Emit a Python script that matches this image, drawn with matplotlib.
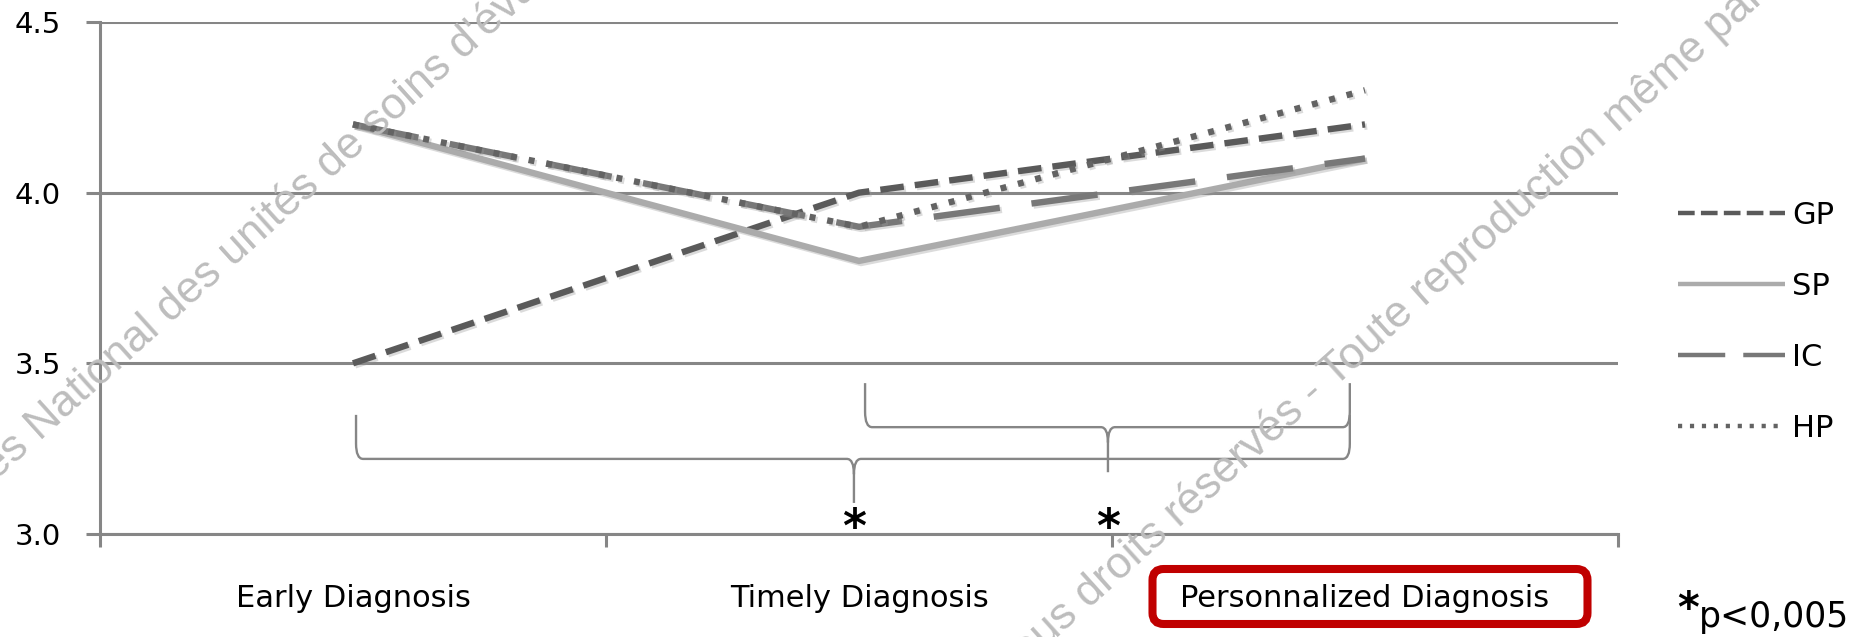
import matplotlib
matplotlib.use("Agg")
import matplotlib.pyplot as plt
import matplotlib.patheffects as pe
from matplotlib.path import Path
from matplotlib.patches import PathPatch, FancyBboxPatch
from matplotlib.lines import Line2D

plt.rcParams['lines.scale_dashes'] = False

# mean scores per stage of diagnosis, for each group of professionals
categories = ["Early Diagnosis", "Timely Diagnosis", "Personnalized Diagnosis"]
groups = ["GP", "SP", "IC", "HP"]
gp = [3.5, 4.0, 4.2]
sp = [4.2, 3.8, 4.1]
ic = [4.2, 3.9, 4.1]
hp = [4.2, 3.9, 4.3]
yticks = [3.0, 3.5, 4.0, 4.5]

# significance braces: left / right category edge, cusp position, heights
brace_left = [0.006, 1.012]
brace_right = [1.97, 1.97]
brace_mid = [0.99, 1.492]
brace_top = [3.349, 3.442]
brace_level = [3.220, 3.313]
brace_tip = [3.091, 3.181]
star_y = 3.012

grid_col = "#868686"
styles = {
    "GP": dict(color="#5A5A5A", dashes=(17, 8), leg_dashes=(12, 4.5)),
    "SP": dict(color="#ABABAB", dashes=(None, None), leg_dashes=(None, None)),
    "IC": dict(color="#787878", dashes=(48, 23), leg_dashes=(34, 13)),
    "HP": dict(color="#636363", dashes=(4.3, 8.6), leg_dashes=(3, 5.6)),
}

fig = plt.figure(figsize=(18.6, 6.37), dpi=100)
ax = fig.add_axes([100 / 1860, 1 - 534 / 637, 1518 / 1860, 512 / 637])
x = list(range(len(categories)))

shadow = [pe.SimpleLineShadow(offset=(1.5, -1.5), shadow_color="#999999", alpha=0.35), pe.Normal()]
for name, vals in zip(groups, [gp, sp, ic, hp]):
    st = styles[name]
    line, = ax.plot(x, vals, color=st["color"], lw=4.6, solid_capstyle="butt",
                    dash_capstyle="butt", solid_joinstyle="miter", path_effects=shadow, zorder=3)
    if st["dashes"][0] is not None:
        line.set_dashes(st["dashes"])

ax.set_xlim(-0.5, 2.5)
ax.set_ylim(3.0, 4.5)
ax.set_yticks(yticks)
ax.set_yticklabels([f"{v:.1f}" for v in yticks], fontsize=21)
ax.yaxis.grid(True, color=grid_col, lw=2.2, zorder=1)
ax.set_axisbelow(True)
for s in ["top", "right"]:
    ax.spines[s].set_visible(False)
for s in ["left", "bottom"]:
    ax.spines[s].set_color(grid_col)
    ax.spines[s].set_linewidth(2.2)
ax.tick_params(axis="y", length=10, width=2.2, color=grid_col, pad=18)
ax.set_xticks(x)
ax.set_xticklabels(categories, fontsize=22)
ax.set_xticks([-0.5, 0.5, 1.5, 2.5], minor=True)
ax.tick_params(axis="x", which="major", length=0, pad=36)
ax.tick_params(axis="x", which="minor", length=9.4, width=2.2, color=grid_col)


def brace(x0, x1, xc, ytop, yh, ytip, rx=0.014, ry=0.045):
    verts = [(x0, ytop), (x0, yh + ry), (x0, yh), (x0 + rx, yh),
             (xc - rx, yh), (xc, yh), (xc, yh - ry), (xc, ytip),
             (xc, yh - ry), (xc, yh), (xc + rx, yh),
             (x1 - rx, yh), (x1, yh), (x1, yh + ry), (x1, ytop)]
    codes = [Path.MOVETO, Path.LINETO, Path.CURVE3, Path.CURVE3,
             Path.LINETO, Path.CURVE3, Path.CURVE3, Path.LINETO,
             Path.MOVETO, Path.CURVE3, Path.CURVE3,
             Path.LINETO, Path.CURVE3, Path.CURVE3, Path.LINETO]
    ax.add_patch(PathPatch(Path(verts, codes), fc="none", ec=grid_col, lw=1.7, zorder=2))


for i in range(len(brace_mid)):
    brace(brace_left[i], brace_right[i], brace_mid[i], brace_top[i], brace_level[i], brace_tip[i])
    ax.text(brace_mid[i], star_y, "*", ha="center", va="center", fontsize=33,
            fontweight="bold", color="black")

# legend
handles = []
for name in groups:
    st = styles[name]
    h = Line2D([], [], color=st["color"], lw=3.2, solid_capstyle="butt", dash_capstyle="butt")
    if st["leg_dashes"][0] is not None:
        h.set_dashes(st["leg_dashes"])
    handles.append(h)
ax.legend(handles, groups, loc="upper left", bbox_to_anchor=(1678 / 1860, 1 - 201 / 637),
          bbox_transform=fig.transFigure, frameon=False, fontsize=22, borderpad=0,
          borderaxespad=0, handlelength=3.5, handletextpad=0.23, labelspacing=1.37)

# red frame around the last category label
xc_fig = fig.transFigure.inverted().transform(ax.transData.transform((2, 3.0)))[0]
bw, bh = 435 / 1860, 55 / 637
frame = FancyBboxPatch((xc_fig + 5 / 1860 - bw / 2, 1 - 624 / 637), bw, bh,
                       boxstyle="round,pad=0,rounding_size=0.006", mutation_aspect=1860 / 637,
                       transform=fig.transFigure, fc="none", ec="#C00000", lw=5.8, zorder=5)
fig.patches.append(frame)

# footnote
fig.text(1688 / 1860, 1 - 622 / 637, "*", ha="center", va="baseline", fontsize=30,
         fontweight="bold")
fig.text(1699 / 1860, 1 - 627 / 637, "p<0,005", ha="left", va="baseline", fontsize=25)

# watermark
wm = dict(color="#BDBDBD", fontsize=32, family="Liberation Sans", rotation=42,
          rotation_mode="anchor", ha="left", va="baseline", zorder=0)
fig.text(-4 / 1860, 1 - 481 / 637, "es National des unités de soins d'évaluation", **wm)
fig.text(1010 / 1860, 1 - 680 / 637, "Tous droits réservés - Toute reproduction même partielle", **wm)

fig.savefig("out.png", dpi=100)
